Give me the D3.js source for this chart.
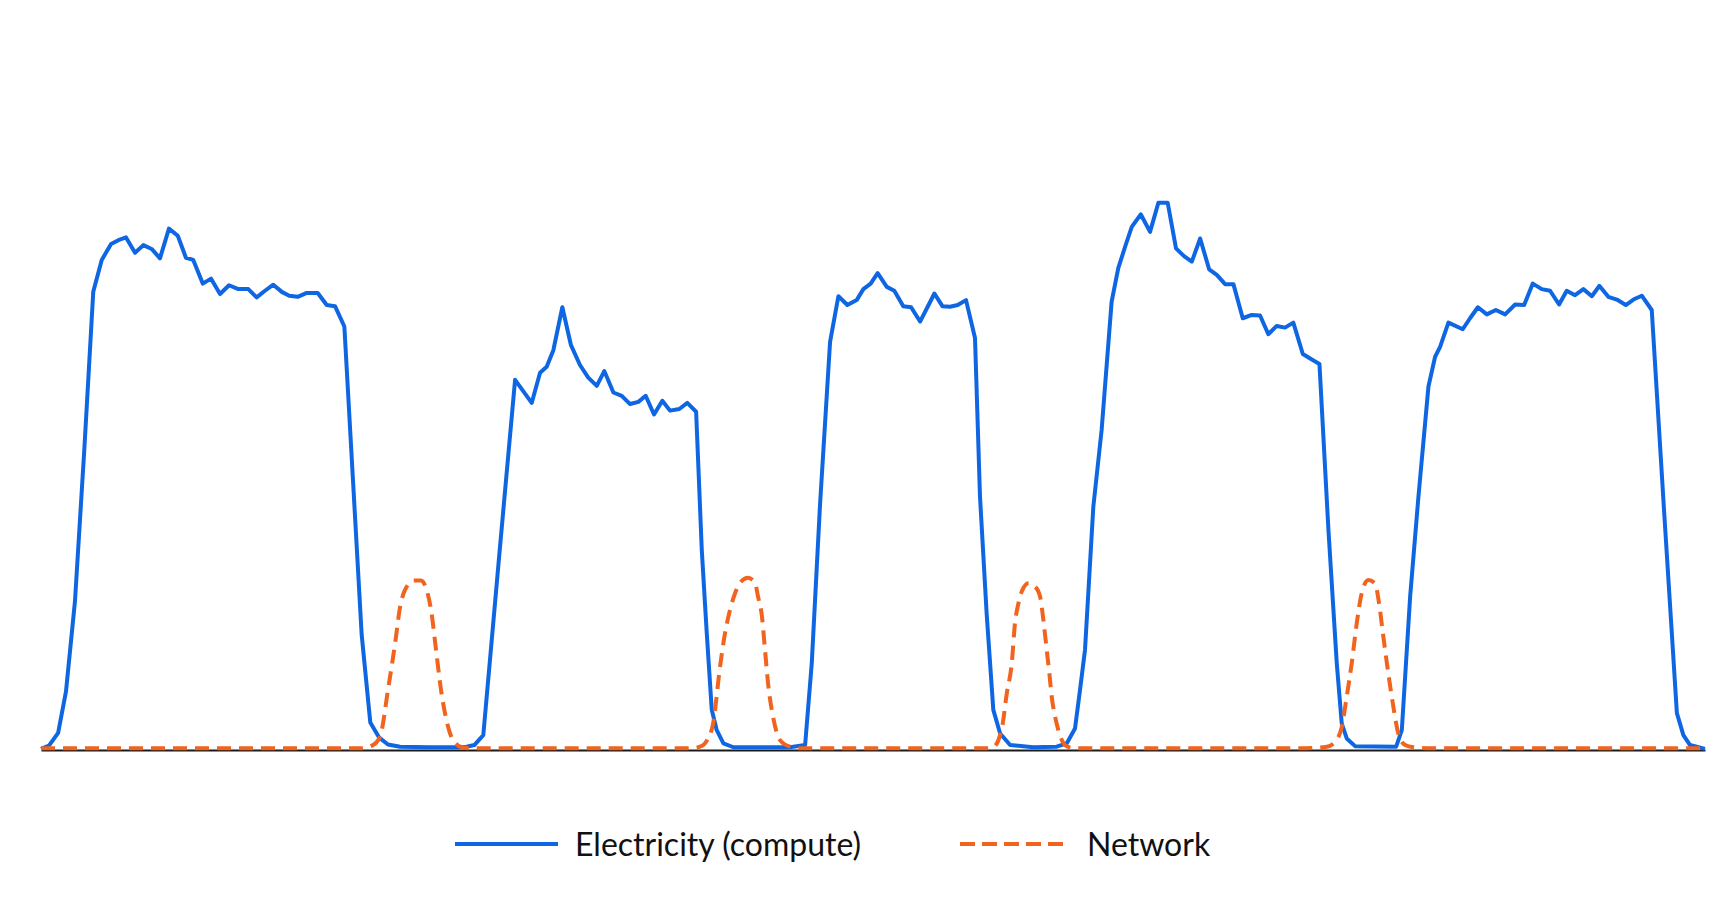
<!DOCTYPE html>
<html>
<head>
<meta charset="utf-8">
<script src="https://d3js.org/d3.v7.min.js"></script>
<style>
  body { margin: 0; background: #fff; }
</style>
</head>
<body>
<svg id="chart" width="1721" height="914"></svg>
<script>
// time (arbitrary units 0-1000) and load (0-100)
const elecT = [0, 4.8, 10.3, 15.0, 20.4, 26.1, 31.4, 36.5, 42.1, 46.5, 51.1, 56.5, 61.5, 66.5, 71.5, 76.9, 82.2,
  87.1, 91.5, 97.2, 102.2, 107.6, 113.0, 118.6, 124.6, 129.6, 134.6, 139.6, 144.7, 149.2, 154.3, 159.7, 166.3, 171.7, 176.7, 182.3,
  187.5, 192.7, 197.9, 203.1, 208.5, 215.8, 233.8, 250.0, 255.8, 260.4, 265.8,
  275.3, 284.9, 289.9, 294.9, 299.9, 303.9, 307.9, 313.3, 318.5, 323.9, 328.9, 334.0, 338.5, 344.0, 349.0, 354.0, 359.0,
  363.4, 368.4, 373.4, 378.0, 383.6, 388.4, 393.7,
  397.1, 400.1, 403.1, 406.1, 410.1, 416.1, 450.1, 459.2,
  463.2, 468.2, 474.2, 479.2, 484.6, 490.2, 494.2, 498.6, 502.8, 508.3, 512.8, 518.2, 522.9, 528.3, 532.7, 536.9, 541.7,
  546.3, 550.9, 555.9, 561.3,
  564.3, 568.3, 572.3, 576.4, 582.4, 596.2, 610.4, 616.4, 621.4,
  624.4, 627.4, 632.4, 637.4, 643.4, 647.4, 651.5, 655.5, 660.9, 666.5, 671.5, 677.1, 682.1, 686.9, 691.6, 696.6, 702.0,
  706.6, 711.6, 716.6, 722.2, 727.6, 732.6, 737.6, 742.6, 747.6, 752.6, 758.3, 763.7, 768.3,
  773.7, 778.7, 781.7, 784.7, 789.7, 814.4,
  817.8, 822.8, 827.8, 833.8, 837.8, 840.8, 845.8, 854.4, 858.8, 863.5, 868.9, 874.3, 879.9, 885.9, 891.3, 896.5, 901.9,
  906.9, 912.3, 916.9, 921.9, 926.9, 932.0, 936.5, 941.9, 947.0, 952.4, 957.0, 962.0, 968.0,
  975.4, 983.1, 987.0, 991.0, 1000];
const elecV = [0.2, 0.8, 3.1, 10.6, 27, 55, 83.3, 89.1, 92.0, 92.7, 93.2, 90.4, 91.8, 91.1, 89.4, 94.8, 93.5,
  89.5, 89.1, 84.8, 85.7, 82.9, 84.5, 83.8, 83.8, 82.3, 83.5, 84.6, 83.3, 82.6, 82.4, 83.1, 83.1, 80.9, 80.7, 77.0,
  49, 21, 5, 2.3, 1.0, 0.6, 0.5, 0.5, 0.6, 0.9, 2.7,
  35.1, 67.3, 65.2, 63.1, 68.6, 69.7, 72.7, 80.5, 73.6, 70.0, 67.7, 66.2, 68.9, 65.0, 64.4, 62.9, 63.3,
  64.4, 61.0, 63.5, 61.7, 62.0, 63.1, 61.5,
  36.4, 21.2, 7.3, 3.6, 1.2, 0.5, 0.5, 0.9,
  15.8, 44.8, 74.2, 82.5, 80.9, 81.8, 83.8, 84.8, 86.7, 84.2, 83.5, 80.7, 80.5, 77.9, 80.5, 83.0, 80.7,
  80.6, 80.9, 81.8, 74.9,
  46.1, 24.8, 7.3, 3.0, 0.9, 0.5, 0.6, 1.2, 3.9,
  10.9, 18.2, 44.2, 58.2, 81.5, 87.6, 91.5, 95.1, 97.4, 94.2, 99.5, 99.5, 91.2, 89.8, 88.8, 93.0, 87.4,
  86.4, 84.7, 84.7, 78.5, 79.1, 79.0, 75.6, 77.1, 76.8, 77.7, 72.0, 71.0, 70.2,
  40, 15.8, 4.8, 2.1, 0.7, 0.6,
  3.6, 27.9, 46.1, 66.1, 71.5, 73.3, 77.7, 76.5, 78.5, 80.5, 79.2, 80.0, 79.2, 81.0, 80.9, 84.8, 83.8,
  83.5, 81.0, 83.5, 82.7, 83.8, 82.5, 84.4, 82.4, 81.9, 80.9, 81.9, 82.6, 80.0,
  43.5, 6.7, 2.7, 0.9, 0.2];

const netT = [0, 191.7, 198.9, 203.7, 208.5, 212.8, 215.8, 219.4, 224.2, 228.4, 231.4, 234.4, 237.4, 240.4, 244.0, 247.6, 253.0, 259.0,
  390.0, 396.1, 400.3, 403.9, 408.1, 411.1, 414.1, 417.1, 420.1, 424.9, 429.1, 430.9, 433.3, 435.1, 436.9, 439.9, 444.1, 450.1, 456.2,
  567.3, 572.2, 577.4, 580.4, 583.4, 585.4, 587.0, 589.4, 593.4, 597.4, 600.4, 602.4, 604.4, 606.0, 607.4, 609.4, 611.4, 613.5, 615.4, 621.4,
  756.7, 772.7, 777.7, 781.7, 784.7, 787.7, 790.7, 793.7, 797.7, 801.7, 804.1, 806.7, 809.7, 812.7, 815.7, 819.8, 824.8, 834.8, 1000];
const netV = [0.3, 0.3, 0.8, 2.4, 10.9, 19.4, 26, 29.5, 30.8, 30.8, 29.4, 25.5, 18.2, 10.9, 5.0, 1.8, 0.5, 0.3,
  0.3, 0.6, 1.8, 4.8, 15.2, 21.3, 25.5, 28.5, 30.4, 31.3, 30.4, 27.9, 24.2, 18.2, 12.2, 6.1, 1.8, 0.6, 0.3,
  0.3, 0.5, 3.9, 10.3, 15.8, 23.3, 26.1, 28.8, 30.3, 29.7, 27.9, 23.6, 18.2, 13.9, 9.7, 6.1, 3.6, 1.8, 0.9, 0.3,
  0.3, 0.6, 1.5, 4.2, 9.7, 15.8, 23.0, 28.5, 30.9, 30.3, 26.7, 20.6, 13.9, 7.9, 3.0, 0.9, 0.5, 0.3, 0.3];

const seriesNames = ["Electricity (compute)", "Network"];
const blue = "#0f66e3";
const orange = "#f2631d";

let svg = d3.select("#chart");

let xScale = d3.scaleLinear().domain([0, 1000]).range([41, 1705]);
let yScale = d3.scaleLinear().domain([0, 100]).range([750, 200]);

// baseline axis, no ticks
svg.append("g")
    .attr("transform", "translate(0," + yScale(0) + ")")
    .call(d3.axisBottom(xScale).ticks(0).tickSizeOuter(0))
    .call(g => g.select(".domain").attr("stroke", "#1a1a1a").attr("stroke-width", 2));

let elec = elecT.map((t, i) => [t, elecV[i]]);
let net = netT.map((t, i) => [t, netV[i]]);

let lineLinear = d3.line()
    .x(d => xScale(d[0]))
    .y(d => yScale(d[1]));

let lineSmooth = d3.line()
    .x(d => xScale(d[0]))
    .y(d => yScale(d[1]))
    .curve(d3.curveMonotoneX);

svg.append("path")
    .datum(elec)
    .attr("d", lineLinear)
    .attr("fill", "none")
    .attr("stroke", blue)
    .attr("stroke-width", 4)
    .attr("stroke-linejoin", "round");

svg.append("path")
    .datum(net)
    .attr("d", lineSmooth)
    .attr("fill", "none")
    .attr("stroke", orange)
    .attr("stroke-width", 4)
    .attr("stroke-dasharray", "14,8");

// legend
let legend = [
    { name: seriesNames[0], color: blue, dash: null, x1: 455, x2: 558, tx: 575 },
    { name: seriesNames[1], color: orange, dash: "15,7", x1: 960, x2: 1068, tx: 1087 }
];
legend.forEach(d => {
    svg.append("line")
        .attr("x1", d.x1).attr("x2", d.x2)
        .attr("y1", 844).attr("y2", 844)
        .attr("stroke", d.color)
        .attr("stroke-width", 4)
        .attr("stroke-dasharray", d.dash);
    svg.append("text")
        .attr("x", d.tx)
        .attr("y", 843)
        .attr("dominant-baseline", "central")
        .attr("font-family", "Lato, 'Open Sans', sans-serif")
        .attr("font-size", 32)
        .attr("fill", "#111")
        .text(d.name);
});
</script>
</body>
</html>
